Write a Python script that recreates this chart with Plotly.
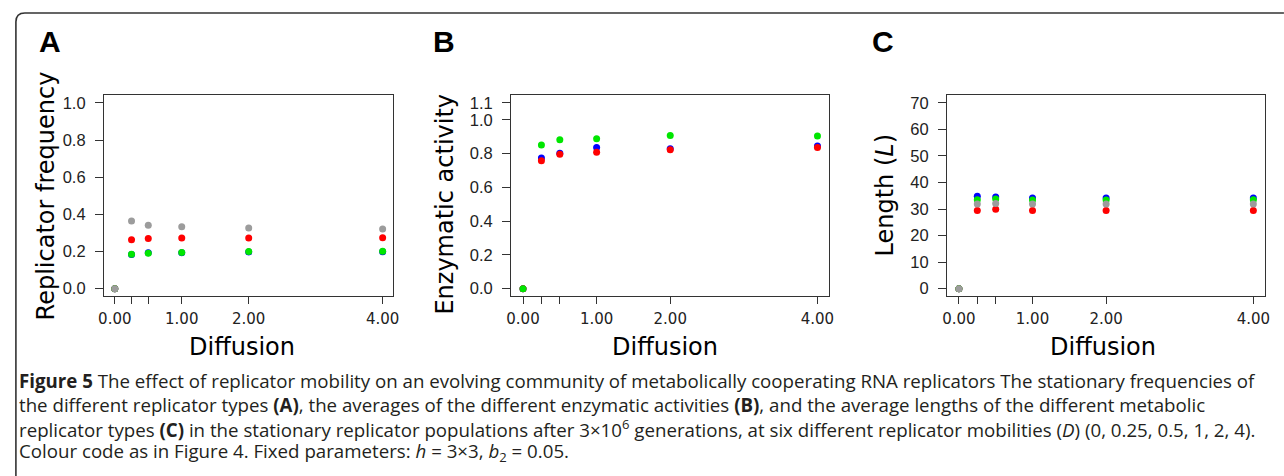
import plotly.graph_objects as go

W, H = 1284, 476

# ---------------- data ----------------
diffusion = [0, 0.25, 0.5, 1, 2, 4]
x_tickvals = [0, 1, 2, 4]
x_ticktext = ["0.00", "1.00", "2.00", "4.00"]
x_minor_ticks = [0.25, 0.5]

# Panel A: replicator frequency
freq_blue = [0.0, 0.184, 0.193, 0.193, 0.198, 0.199]
freq_red = [0.0, 0.264, 0.270, 0.273, 0.273, 0.274]
freq_green = [0.0, 0.186, 0.191, 0.195, 0.200, 0.201]
freq_gray = [0.0, 0.364, 0.342, 0.334, 0.326, 0.321]

# Panel B: enzymatic activity
act_blue = [0.0, 0.774, 0.802, 0.835, 0.829, 0.845]
act_red = [0.0, 0.757, 0.796, 0.807, 0.823, 0.835]
act_green = [0.0, 0.851, 0.882, 0.888, 0.906, 0.904]

# Panel C: length
len_blue = [0.0, 34.8, 34.5, 34.2, 34.2, 34.2]
len_red = [0.0, 29.5, 29.9, 29.5, 29.5, 29.5]
len_green = [0.0, 33.5, 33.8, 33.4, 33.4, 33.5]
len_gray = [0.0, 31.9, 32.1, 31.9, 31.9, 31.9]

yticks_A = [0, 0.2, 0.4, 0.6, 0.8, 1.0]
yticks_B = [0, 0.2, 0.4, 0.6, 0.8, 1.0, 1.1]
yticks_C = [0, 10, 20, 30, 40, 50, 60, 70]

COL = {"blue": "#0000ff", "red": "#ff0000", "green": "#00e600", "gray": "#9c9c9c"}

def px(x):
    return x / W

def py(y):
    return 1 - y / H

fig = go.Figure()

def add(series, color, ax):
    fig.add_trace(go.Scatter(
        x=diffusion, y=series, mode="markers",
        marker=dict(size=7, color=color, line=dict(width=0)),
        xaxis="x" + ax, yaxis="y" + ax, showlegend=False, hoverinfo="x+y"))

add(freq_blue, COL["blue"], "")
add(freq_red, COL["red"], "")
add(freq_green, COL["green"], "")
add(freq_gray, COL["gray"], "")

add(act_blue, COL["blue"], "2")
add(act_red, COL["red"], "2")
add(act_green, COL["green"], "2")

add(len_blue, COL["blue"], "3")
add(len_red, COL["red"], "3")
add(len_green, COL["green"], "3")
add(len_gray, COL["gray"], "3")

ydom = [py(296), py(94)]
xdoms = [[px(99), px(391)], [px(510), px(831)], [px(950), px(1271)]]

def xaxis(dom, anchor):
    return dict(domain=dom, anchor=anchor, range=[-0.16, 4.16],
                tickvals=x_tickvals, ticktext=x_ticktext,
                ticks="outside", ticklen=7, tickwidth=1.2, tickcolor="#333",
                minor=dict(tickvals=x_minor_ticks, ticks="outside", ticklen=7,
                           tickwidth=1.2, tickcolor="#333", showgrid=False),
                showline=True, linecolor="#333", linewidth=1.3, mirror=True,
                showgrid=False, zeroline=False, ticklabelstandoff=2,
                tickfont=dict(family="DejaVu Sans", size=15, color="#222"))

def yaxis(anchor, rng, tv, fmt):
    return dict(domain=ydom, anchor=anchor, range=rng, tickvals=tv, tickformat=fmt,
                ticks="outside", ticklen=8, tickwidth=1.2, tickcolor="#333",
                showline=True, linecolor="#333", linewidth=1.3, mirror=True,
                showgrid=False, zeroline=False, ticklabelstandoff=6,
                tickfont=dict(family="Liberation Sans", size=16.5, color="#222"))

fig.update_layout(
    width=W, height=H, margin=dict(l=0, r=0, t=0, b=0),
    paper_bgcolor="white", plot_bgcolor="white",
    xaxis=xaxis(xdoms[0], "y"), yaxis=yaxis("x", [-0.04, 1.04], yticks_A, ".1f"),
    xaxis2=xaxis(xdoms[1], "y2"), yaxis2=yaxis("x2", [-0.044, 1.144], yticks_B, ".1f"),
    xaxis3=xaxis(xdoms[2], "y3"), yaxis3=yaxis("x3", [-2.8, 72.8], yticks_C, "d"),
)

# frame of the figure box
fig.add_shape(type="path", xref="paper", yref="paper",
              path=f"M {px(10)},{py(480)} L {px(10)},{py(20)} Q {px(10)},{py(11)} {px(19)},{py(11)} L {px(1290)},{py(11)}",
              line=dict(color="#333", width=1.6))

ann = []
# panel letters
for letter, x in [("A", 44), ("B", 442), ("C", 885)]:
    ann.append(dict(text=f"<b>{letter}</b>", x=px(x), y=py(40), xref="paper", yref="paper",
                    xanchor="center", yanchor="middle", showarrow=False,
                    font=dict(family="Liberation Sans", size=30, color="#000")))
# axis titles
tf = dict(family="DejaVu Sans", size=24, color="#000")
for x in [238, 665, 1107]:
    ann.append(dict(text="Diffusion", x=px(x), y=py(347), xref="paper", yref="paper",
                    xanchor="center", yanchor="middle", showarrow=False, font=tf))
for text, x, y in [("Replicator frequency", 40, 195), ("Enzymatic activity", 443, 203),
                   ("Length (<i>L</i>)", 887, 194)]:
    ann.append(dict(text=text, x=px(x), y=py(y), xref="paper", yref="paper", textangle=-90,
                    xanchor="center", yanchor="middle", showarrow=False, font=tf))

caption = [
    "<b>Figure 5</b> The effect of replicator mobility on an evolving community of metabolically cooperating RNA replicators The stationary frequencies of",
    "the different replicator types <b>(A)</b>, the averages of the different enzymatic activities <b>(B)</b>, and the average lengths of the different metabolic",
    "replicator types <b>(C)</b> in the stationary replicator populations after 3×10<sup>6</sup> generations, at six different replicator mobilities (<i>D</i>) (0, 0.25, 0.5, 1, 2, 4).",
    "Colour code as in Figure 4. Fixed parameters: <i>h</i> = 3×3, <i>b</i><sub>2</sub> = 0.05.",
]
for i, line in enumerate(caption):
    ann.append(dict(text=line, x=px(12), y=py(381 + 24 * i), xref="paper", yref="paper",
                    xanchor="left", yanchor="middle", showarrow=False, align="left",
                    borderpad=0,
                    font=dict(family="Open Sans", size=18.7, color="#231f20")))

fig.update_layout(annotations=ann)
fig.write_html("out.html")
